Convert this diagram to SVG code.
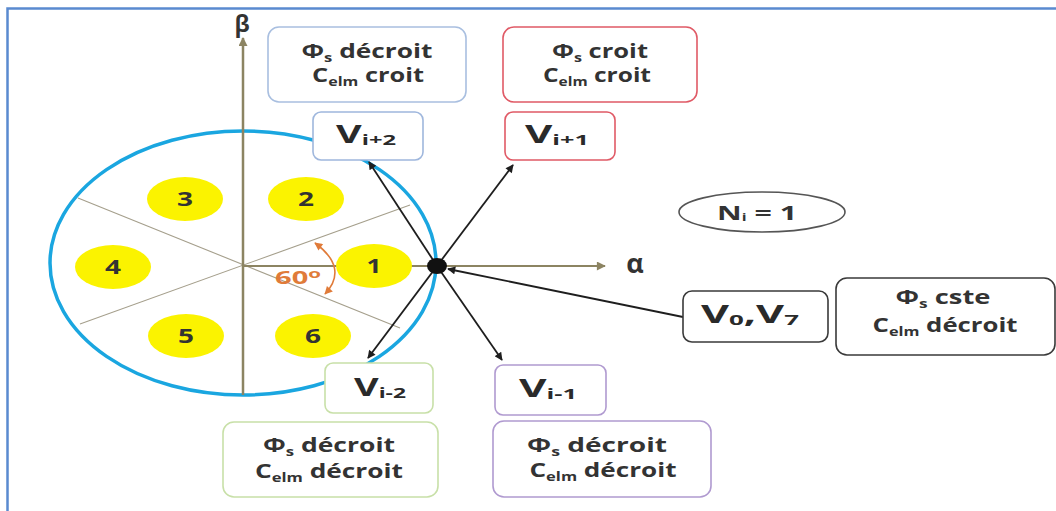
<svg xmlns="http://www.w3.org/2000/svg" width="1056" height="511" viewBox="0 0 1056 511">
<style>
.box{fill:#fff;stroke-width:1.6}
.t{font-family:"Open Sans","DejaVu Sans",sans-serif;font-weight:700;font-size:19px;fill:#333;text-anchor:middle}
.v{font-family:"Open Sans","DejaVu Sans",sans-serif;font-weight:700;font-size:25px;fill:#2a2a2a;text-anchor:middle}
.num{font-family:"Open Sans","DejaVu Sans",sans-serif;font-weight:700;font-size:19px;fill:#333;text-anchor:middle}
.ax{font-family:"Open Sans","DejaVu Sans",sans-serif;font-weight:700;fill:#333;text-anchor:middle}
.sec{stroke:#a59f8c;stroke-width:1.1}
.vec{stroke:#1e1e1e;stroke-width:1.8;fill:none;marker-end:url(#ah)}
.yel{fill:#fbf300}
</style>
<defs>
<marker id="ah" viewBox="0 0 10 10" refX="9" refY="5" markerWidth="10" markerHeight="8" markerUnits="userSpaceOnUse" orient="auto">
<path d="M0,0 L10,5 L0,10 z" fill="#1e1e1e"/>
</marker>
<marker id="axh" viewBox="0 0 10 10" refX="9" refY="5" markerWidth="11" markerHeight="9" markerUnits="userSpaceOnUse" orient="auto">
<path d="M0,0 L10,5 L0,10 z" fill="#8c8462"/>
</marker>
<marker id="oh" viewBox="0 0 10 10" refX="9" refY="5" markerWidth="10" markerHeight="8" markerUnits="userSpaceOnUse" orient="auto-start-reverse">
<path d="M0,0 L10,5 L0,10 z" fill="#e07b39"/>
</marker>
</defs>
<rect width="1056" height="511" fill="#fff"/>
<path d="M7.5,511 L7.5,8.5 L1056,8.5" fill="none" stroke="#5a8ad0" stroke-width="2.5"/>

<g id="sectors">
<line class="sec" x1="80" y1="324" x2="410" y2="205"/>
<line class="sec" x1="78" y1="198" x2="400" y2="328"/>
</g>
<g id="circle">
<ellipse cx="243" cy="263" rx="193" ry="132" fill="none" stroke="#1aa6e0" stroke-width="3.5"/>
</g>
<g id="axes">
<line x1="243" y1="395" x2="243" y2="38" stroke="#8c8462" stroke-width="2.5" marker-end="url(#axh)"/>
<line x1="243" y1="266" x2="605" y2="266" stroke="#8c8462" stroke-width="2" marker-end="url(#axh)"/>
<text x="242" y="32" class="ax" font-size="23">β</text>
<text x="635" y="273" class="ax" font-size="27">α</text>
</g>
<g id="sector-1"><ellipse class="yel" cx="374" cy="266" rx="38" ry="22"/><text class="num" x="374" y="273" textLength="15" lengthAdjust="spacingAndGlyphs">1</text></g>
<g id="sector-2"><ellipse class="yel" cx="306" cy="199" rx="38" ry="22"/><text class="num" x="306" y="206" textLength="16" lengthAdjust="spacingAndGlyphs">2</text></g>
<g id="sector-3"><ellipse class="yel" cx="185" cy="199" rx="38" ry="22"/><text class="num" x="185" y="206" textLength="16" lengthAdjust="spacingAndGlyphs">3</text></g>
<g id="sector-4"><ellipse class="yel" cx="113" cy="267" rx="38" ry="22"/><text class="num" x="113" y="274" textLength="16" lengthAdjust="spacingAndGlyphs">4</text></g>
<g id="sector-5"><ellipse class="yel" cx="186" cy="336" rx="38" ry="22"/><text class="num" x="186" y="343" textLength="16" lengthAdjust="spacingAndGlyphs">5</text></g>
<g id="sector-6"><ellipse class="yel" cx="313" cy="336" rx="38" ry="22"/><text class="num" x="313" y="343" textLength="16" lengthAdjust="spacingAndGlyphs">6</text></g>

<g id="angle">
<path d="M315,243 Q349,268 325,294" fill="none" stroke="#e07b39" stroke-width="1.6" marker-start="url(#oh)" marker-end="url(#oh)"/>
<text x="298" y="284" font-family="'Open Sans','DejaVu Sans',sans-serif" font-weight="700" font-size="17" fill="#e07b39" text-anchor="middle" textLength="46" lengthAdjust="spacingAndGlyphs">60<tspan font-size="12" dy="-6">o</tspan></text>
</g>

<g id="connectors">
<line class="vec" x1="437" y1="266" x2="369" y2="162"/>
<line class="vec" x1="437" y1="266" x2="513" y2="165"/>
<line class="vec" x1="437" y1="266" x2="368" y2="358"/>
<line class="vec" x1="437" y1="266" x2="502" y2="360"/>
<line class="vec" x1="683" y1="317" x2="448" y2="269"/>
</g>
<g id="origin-dot"><ellipse cx="437" cy="266" rx="10" ry="8" fill="#111"/></g>

<g id="box-phi-dec-c-croit">
<rect class="box" x="268" y="27" width="198" height="75" rx="11" stroke="#a9bfe0"/>
<text class="t" x="367" y="58" textLength="131" lengthAdjust="spacingAndGlyphs">Φ<tspan font-size="12" dy="4">s</tspan><tspan dy="-4"> décroit</tspan></text>
<text class="t" x="368" y="82" textLength="112" lengthAdjust="spacingAndGlyphs">C<tspan font-size="12" dy="4">elm</tspan><tspan dy="-4"> croit</tspan></text>
</g>
<g id="box-phi-croit-c-croit">
<rect class="box" x="503" y="27" width="194" height="75" rx="11" stroke="#e05a66"/>
<text class="t" x="600" y="58" textLength="96" lengthAdjust="spacingAndGlyphs">Φ<tspan font-size="12" dy="4">s</tspan><tspan dy="-4"> croit</tspan></text>
<text class="t" x="597" y="82" textLength="108" lengthAdjust="spacingAndGlyphs">C<tspan font-size="12" dy="4">elm</tspan><tspan dy="-4"> croit</tspan></text>
</g>
<g id="box-vi2">
<rect class="box" x="313" y="112" width="110" height="48" rx="8" stroke="#9fb7dd"/>
<text class="v" x="366" y="143" textLength="60" lengthAdjust="spacingAndGlyphs">V<tspan font-size="15" dy="2">i+2</tspan></text>
</g>
<g id="box-vi1">
<rect class="box" x="505" y="112" width="110" height="48" rx="8" stroke="#e05a66"/>
<text class="v" x="557" y="143" textLength="64" lengthAdjust="spacingAndGlyphs">V<tspan font-size="15" dy="2">i+1</tspan></text>
</g>
<g id="node-ni">
<ellipse cx="762" cy="212" rx="83" ry="20" fill="#fff" stroke="#555" stroke-width="1.6"/>
<text class="t" x="757" y="220" textLength="80" lengthAdjust="spacingAndGlyphs">N<tspan font-size="10" dy="1">i</tspan><tspan dy="-1"> = 1</tspan></text>
</g>
<g id="box-v0v7">
<rect class="box" x="683" y="291" width="145" height="51" rx="9" stroke="#3a3a3a"/>
<text class="v" x="750" y="323" textLength="98" lengthAdjust="spacingAndGlyphs">V<tspan font-size="15" dy="2">0</tspan><tspan dy="-2">,V</tspan><tspan font-size="15" dy="2">7</tspan></text>
</g>
<g id="box-cste">
<rect class="box" x="836" y="278" width="219" height="77" rx="11" stroke="#3a3a3a"/>
<text class="t" x="943" y="304" textLength="95" lengthAdjust="spacingAndGlyphs">Φ<tspan font-size="12" dy="4">s</tspan><tspan dy="-4"> cste</tspan></text>
<text class="t" x="945" y="332" textLength="145" lengthAdjust="spacingAndGlyphs">C<tspan font-size="12" dy="4">elm</tspan><tspan dy="-4"> décroit</tspan></text>
</g>
<g id="box-vim2">
<rect class="box" x="325" y="363" width="108" height="50" rx="8" stroke="#c8e0a8"/>
<text class="v" x="380" y="396" textLength="52" lengthAdjust="spacingAndGlyphs">V<tspan font-size="15" dy="2">i-2</tspan></text>
</g>
<g id="box-vim1">
<rect class="box" x="495" y="365" width="111" height="50" rx="8" stroke="#b09ad0"/>
<text class="v" x="548" y="397" textLength="58" lengthAdjust="spacingAndGlyphs">V<tspan font-size="15" dy="2">i-1</tspan></text>
</g>
<g id="box-green">
<rect class="box" x="223" y="422" width="215" height="75" rx="11" stroke="#c8e0a8"/>
<text class="t" x="329" y="452" textLength="132" lengthAdjust="spacingAndGlyphs">Φ<tspan font-size="12" dy="4">s</tspan><tspan dy="-4"> décroit</tspan></text>
<text class="t" x="329" y="478" textLength="148" lengthAdjust="spacingAndGlyphs">C<tspan font-size="12" dy="4">elm</tspan><tspan dy="-4"> décroit</tspan></text>
</g>
<g id="box-purple">
<rect class="box" x="493" y="421" width="218" height="76" rx="11" stroke="#b09ad0"/>
<text class="t" x="597" y="452" textLength="140" lengthAdjust="spacingAndGlyphs">Φ<tspan font-size="12" dy="4">s</tspan><tspan dy="-4"> décroit</tspan></text>
<text class="t" x="603" y="477" textLength="147" lengthAdjust="spacingAndGlyphs">C<tspan font-size="12" dy="4">elm</tspan><tspan dy="-4"> décroit</tspan></text>
</g>
</svg>
